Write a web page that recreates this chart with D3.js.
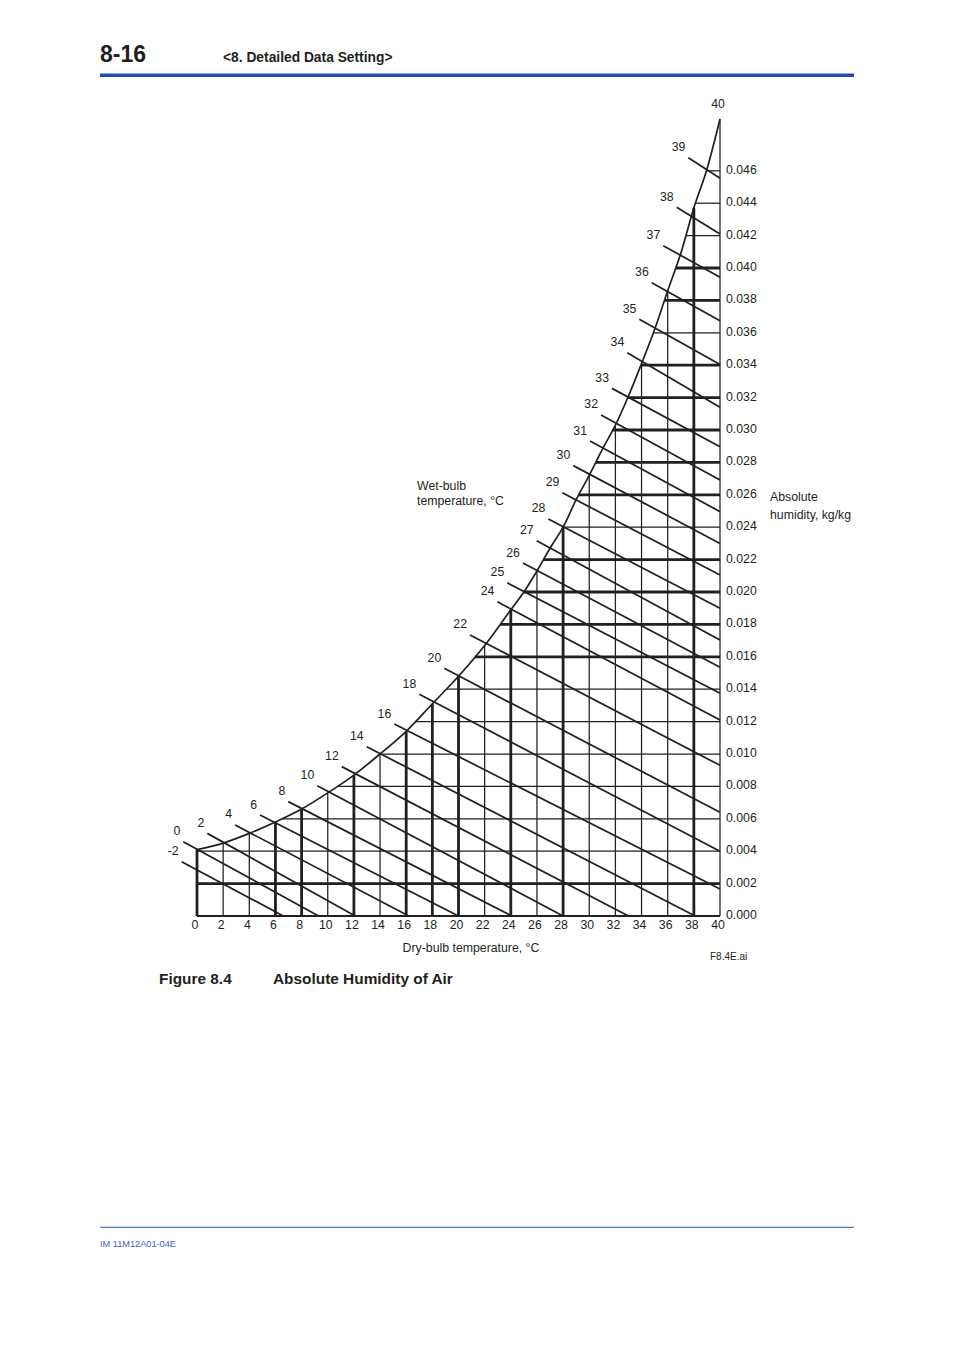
<!DOCTYPE html>
<html>
<head>
<meta charset="utf-8">
<script src="https://cdn.jsdelivr.net/npm/d3@7/dist/d3.min.js"></script>
<style>
  body { margin: 0; background: #fff; }
  svg text { font-family: "Liberation Sans", Arial, sans-serif; fill: #231f20; }
</style>
</head>
<body>
<svg id="chart" width="954" height="1350"></svg>
<script>
// tick values
const dryBulbTicks = [0, 2, 4, 6, 8, 10, 12, 14, 16, 18, 20, 22, 24, 26, 28, 30, 32, 34, 36, 38, 40];
const humidityTicks = [0, 0.002, 0.004, 0.006, 0.008, 0.010, 0.012, 0.014, 0.016, 0.018, 0.020, 0.022,
  0.024, 0.026, 0.028, 0.030, 0.032, 0.034, 0.036, 0.038, 0.040, 0.042, 0.044, 0.046];

// grid lines drawn heavier in the original
const boldTemps = [0, 6, 8, 12, 16, 18, 20, 24, 28, 38];
const boldHumidities = [0.002, 0.016, 0.018, 0.020, 0.022, 0.026, 0.028, 0.030, 0.032, 0.034, 0.038, 0.040];

// saturation curve
const satTemps = [0, 2, 4, 6, 8, 10, 12, 14, 16, 18, 20, 22, 24, 25, 26, 27, 28, 29, 30, 31, 32, 33, 34, 35, 36, 37, 38, 39, 40];
const satHumidity = [0.0041, 0.0045, 0.0051, 0.0058, 0.0066, 0.0076, 0.0087, 0.0100, 0.0114, 0.0131, 0.0148,
  0.0167, 0.0189, 0.0200, 0.0213, 0.0227, 0.0240, 0.0257, 0.0272, 0.0288, 0.0303, 0.0321, 0.0341, 0.0362,
  0.0386, 0.0409, 0.0437, 0.0461, 0.0492];

// wet-bulb lines: label, start (upper-left end) and end point
const wbLabels = [-2, 0, 2, 4, 6, 8, 10, 12, 14, 16, 18, 20, 22, 24, 25, 26, 27, 28, 29, 30, 31, 32, 33, 34, 35, 36, 37, 38, 39];
const wbStartT = [-1.17, -1.05, 0.79, 2.91, 4.82, 6.98, 9.20, 11.07, 12.98, 15.09, 17.00, 18.91, 20.88, 22.97,
  23.73, 24.93, 25.98, 26.87, 27.94, 28.78, 30.06, 30.90, 31.74, 32.91, 33.83, 34.78, 35.66, 36.69, 37.58];
const wbStartW = [0.00335, 0.00459, 0.00510, 0.00562, 0.00623, 0.00706, 0.00804, 0.00922, 0.01045, 0.01185,
  0.01369, 0.01529, 0.01735, 0.01940, 0.02057, 0.02179, 0.02317, 0.02451, 0.02613, 0.02780, 0.02932, 0.03093,
  0.03257, 0.03477, 0.03683, 0.03909, 0.04138, 0.04375, 0.04681];
const wbEndT = [6.6, 9.3, 12.1, 16.2, 20.0, 24.1, 28.0, 33.0, 38.1, 40, 40, 40, 40, 40,
  40, 40, 40, 40, 40, 40, 40, 40, 40, 40, 40, 40, 40, 40, 40];
const wbEndW = [0, 0, 0, 0, 0, 0, 0, 0, 0, 0.00167, 0.0040, 0.0064, 0.0093, 0.0121,
  0.01375, 0.01535, 0.01704, 0.0190, 0.02105, 0.0230, 0.02496, 0.02691, 0.02897, 0.0314, 0.03405, 0.03675,
  0.03943, 0.0421, 0.04554];

const ink = "#231f20";
const svg = d3.select("#chart");

const x = d3.scaleLinear().domain([0, 40]).range([197, 720]);
const y = d3.scaleLinear().domain([0, 0.046]).range([916, 170.8]);

// humidity on the saturation curve at a given temperature
function satAt(t) {
  const i = satTemps.indexOf(t);
  return satHumidity[i];
}

// temperature where the saturation curve reaches a humidity
function tempAtSat(w) {
  if (w <= satHumidity[0]) return 0;
  for (let i = 0; i < satHumidity.length - 1; i++) {
    const w0 = satHumidity[i], w1 = satHumidity[i + 1];
    if (w >= w0 && w <= w1) {
      return satTemps[i] + (w - w0) / (w1 - w0) * (satTemps[i + 1] - satTemps[i]);
    }
  }
  return 40;
}

const grid = svg.append("g").attr("stroke", ink).attr("fill", "none");

// vertical grid lines, bottom up to the curve
grid.selectAll("line.v")
  .data(dryBulbTicks)
  .join("line")
  .attr("class", "v")
  .attr("x1", d => x(d)).attr("x2", d => x(d))
  .attr("y1", y(0)).attr("y2", d => y(satAt(d)))
  .attr("stroke-width", d => boldTemps.includes(d) ? 2.8 : 1.25);

// horizontal grid lines, from the curve to the right edge
grid.selectAll("line.h")
  .data(humidityTicks)
  .join("line")
  .attr("class", "h")
  .attr("x1", d => x(tempAtSat(d))).attr("x2", x(40))
  .attr("y1", d => y(d)).attr("y2", d => y(d))
  .attr("stroke-width", d => boldHumidities.includes(d) ? 2.8 : (d === 0 ? 1.8 : 1.25));

// saturation curve
const satPoints = satTemps.map((t, i) => [t, satHumidity[i]]);
svg.append("path")
  .datum(satPoints)
  .attr("fill", "none")
  .attr("stroke", ink)
  .attr("stroke-width", 1.7)
  .attr("d", d3.line().x(d => x(d[0])).y(d => y(d[1])).curve(d3.curveMonotoneX));

// wet-bulb lines
const wb = wbLabels.map((label, i) => ({
  label, t0: wbStartT[i], w0: wbStartW[i], t1: wbEndT[i], w1: wbEndW[i]
}));

svg.append("g")
  .selectAll("line")
  .data(wb)
  .join("line")
  .attr("x1", d => x(d.t0)).attr("y1", d => y(d.w0))
  .attr("x2", d => x(d.t1)).attr("y2", d => y(d.w1))
  .attr("stroke", ink)
  .attr("stroke-width", 1.75);

svg.append("g")
  .selectAll("text")
  .data(wb)
  .join("text")
  .attr("x", d => x(d.t0) - 3)
  .attr("y", d => y(d.w0) - 6.5)
  .attr("text-anchor", "end")
  .attr("font-size", "12.3px")
  .text(d => d.label);

// "40" sits on top of the curve
svg.append("text")
  .attr("x", x(40) - 2)
  .attr("y", y(satHumidity[satHumidity.length - 1]) - 11)
  .attr("text-anchor", "middle")
  .attr("font-size", "12.3px")
  .text(40);

// axes (labels only)
const xAxis = d3.axisBottom(x).tickValues(dryBulbTicks).tickSize(0).tickPadding(4.5);
svg.append("g")
  .attr("transform", `translate(-2.5,${y(0)})`)
  .call(xAxis)
  .call(g => g.select(".domain").remove())
  .call(g => g.selectAll("text").attr("fill", ink).attr("font-size", "12.3px")
    .style("font-family", '"Liberation Sans", Arial, sans-serif'));

const yAxis = d3.axisRight(y).tickValues(humidityTicks).tickFormat(d3.format(".3f")).tickSize(0).tickPadding(6);
svg.append("g")
  .attr("transform", `translate(${x(40)},-1.5)`)
  .call(yAxis)
  .call(g => g.select(".domain").remove())
  .call(g => g.selectAll("text").attr("fill", ink).attr("font-size", "12.3px")
    .style("font-family", '"Liberation Sans", Arial, sans-serif'));

// axis titles and notes
const label = (tx, ty, str, opts = {}) => svg.append("text")
  .attr("x", tx).attr("y", ty)
  .attr("font-size", opts.size || "12.3px")
  .attr("font-weight", opts.weight || null)
  .attr("text-anchor", opts.anchor || "start")
  .style("fill", opts.fill || ink)
  .text(str);

label(417, 490, "Wet-bulb");
label(417, 505, "temperature, °C");
label(770, 501, "Absolute");
label(770, 519, "humidity, kg/kg");
label(471, 952, "Dry-bulb temperature, °C", { anchor: "middle" });
label(710, 960, "F8.4E.ai", { size: "10px" });

label(159, 984, "Figure 8.4", { size: "15.4px", weight: "bold" });
label(273, 984, "Absolute Humidity of Air", { size: "15.4px", weight: "bold" });

// page header / footer
label(100, 62, "8-16", { size: "23px", weight: "bold" });
label(223, 62, "<8. Detailed Data Setting>", { size: "13.8px", weight: "bold" });
svg.append("rect").attr("x", 100).attr("y", 73.5).attr("width", 754).attr("height", 3.5).attr("fill", "#1f4fa8");
svg.append("rect").attr("x", 100).attr("y", 1226.8).attr("width", 754).attr("height", 1).attr("fill", "#2a5cb8");
label(100, 1247, "IM 11M12A01-04E", { size: "9.2px", fill: "#3b66c0" });
</script>
</body>
</html>
